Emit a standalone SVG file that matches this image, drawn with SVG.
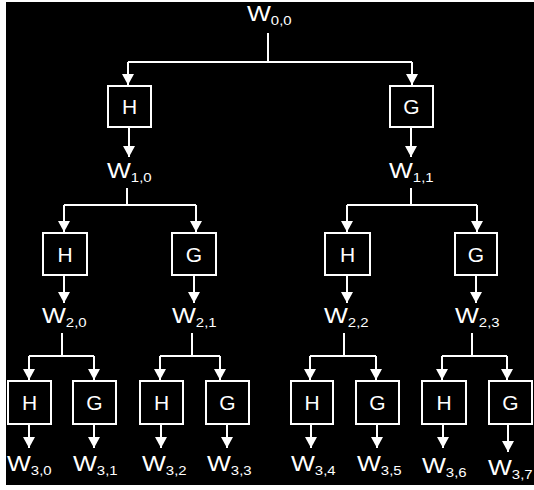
<svg xmlns="http://www.w3.org/2000/svg" width="534" height="490" viewBox="0 0 534 490">
  <defs>
    <style>
      .frame { fill: #000; }
      .box { fill: #000; stroke: #fff; stroke-width: 2; }
      .op { fill: #fff; font-family: "Liberation Sans", Arial, sans-serif; font-size: 21px; text-anchor: middle; }
      .lbl { fill: #fff; font-family: "Liberation Sans", Arial, sans-serif; font-size: 22px; }
      .sub { font-size: 13px; }
      .wire { fill: none; stroke: #fff; stroke-width: 2; }
    </style>
    <marker id="head" markerUnits="userSpaceOnUse" markerWidth="12" markerHeight="12" refX="11" refY="6" orient="auto">
      <path d="M0,0 L11,6 L0,12 z" fill="#fff"/>
    </marker>
  </defs>

  <!-- page -->
  <rect width="534" height="490" fill="#fff"/>
  <rect class="frame" x="6" y="2" width="528" height="483"/>

  <!-- connectors -->
  <g id="connectors" class="wire">
    <!-- level 0 split -->
    <path d="M268,33 V62 M128,62 H412"/>
    <path d="M128,62 V85" marker-end="url(#head)"/>
    <path d="M412,62 V85" marker-end="url(#head)"/>
    <path d="M129,128 V157" marker-end="url(#head)"/>
    <path d="M411,128 V157" marker-end="url(#head)"/>

    <!-- level 1 splits -->
    <path d="M127,188 V205 M64,205 H196"/>
    <path d="M64,205 V232" marker-end="url(#head)"/>
    <path d="M196,205 V232" marker-end="url(#head)"/>
    <path d="M411,188 V205 M347,205 H477"/>
    <path d="M347,205 V232" marker-end="url(#head)"/>
    <path d="M477,205 V232" marker-end="url(#head)"/>
    <path d="M64,276 V303" marker-end="url(#head)"/>
    <path d="M194,276 V303" marker-end="url(#head)"/>
    <path d="M347,276 V303" marker-end="url(#head)"/>
    <path d="M476,276 V303" marker-end="url(#head)"/>

    <!-- level 2 splits -->
    <path d="M62,333 V356 M29,356 H94"/>
    <path d="M29,356 V380" marker-end="url(#head)"/>
    <path d="M94,356 V380" marker-end="url(#head)"/>
    <path d="M192,333 V356 M160,356 H220"/>
    <path d="M160,356 V380" marker-end="url(#head)"/>
    <path d="M220,356 V380" marker-end="url(#head)"/>
    <path d="M344,333 V356 M310,356 H376"/>
    <path d="M310,356 V380" marker-end="url(#head)"/>
    <path d="M376,356 V380" marker-end="url(#head)"/>
    <path d="M472,333 V356 M442,356 H507"/>
    <path d="M442,356 V380" marker-end="url(#head)"/>
    <path d="M507,356 V380" marker-end="url(#head)"/>

    <!-- level 3 outputs -->
    <path d="M29,425 V448" marker-end="url(#head)"/>
    <path d="M94,425 V448" marker-end="url(#head)"/>
    <path d="M161,425 V448" marker-end="url(#head)"/>
    <path d="M227,425 V448" marker-end="url(#head)"/>
    <path d="M311,425 V448" marker-end="url(#head)"/>
    <path d="M377,425 V448" marker-end="url(#head)"/>
    <path d="M443,425 V448" marker-end="url(#head)"/>
    <path d="M508,425 V452" marker-end="url(#head)"/>
  </g>

  <!-- filter boxes -->
  <g id="h1"><rect class="box" x="108" y="86" width="43" height="41"/><text class="op" x="129.5" y="114">H</text></g>
  <g id="g1"><rect class="box" x="390" y="86" width="43" height="41"/><text class="op" x="411.5" y="114">G</text></g>

  <g id="h2a"><rect class="box" x="43" y="233" width="44" height="42"/><text class="op" x="65" y="262">H</text></g>
  <g id="g2a"><rect class="box" x="172" y="233" width="44" height="42"/><text class="op" x="194" y="262">G</text></g>
  <g id="h2b"><rect class="box" x="325" y="233" width="45" height="42"/><text class="op" x="347.5" y="262">H</text></g>
  <g id="g2b"><rect class="box" x="455" y="233" width="42" height="42"/><text class="op" x="476" y="262">G</text></g>

  <g id="h3a"><rect class="box" x="8" y="381" width="43" height="43"/><text class="op" x="29.5" y="410">H</text></g>
  <g id="g3a"><rect class="box" x="73" y="381" width="43" height="43"/><text class="op" x="94.5" y="410">G</text></g>
  <g id="h3b"><rect class="box" x="140" y="381" width="43" height="43"/><text class="op" x="161.5" y="410">H</text></g>
  <g id="g3b"><rect class="box" x="206" y="381" width="43" height="43"/><text class="op" x="227.5" y="410">G</text></g>
  <g id="h3c"><rect class="box" x="291" y="381" width="42" height="43"/><text class="op" x="312" y="410">H</text></g>
  <g id="g3c"><rect class="box" x="356" y="381" width="43" height="43"/><text class="op" x="377.5" y="410">G</text></g>
  <g id="h3d"><rect class="box" x="422" y="381" width="44" height="43"/><text class="op" x="444" y="410">H</text></g>
  <g id="g3d"><rect class="box" x="489" y="381" width="43" height="43"/><text class="op" x="510.5" y="410">G</text></g>

  <!-- signal labels -->
  <g id="w00" transform="translate(247,21) scale(1.15,1)"><text class="lbl">W<tspan class="sub" dy="4">0,0</tspan></text></g>

  <g id="w10" transform="translate(107,178) scale(1.15,1)"><text class="lbl">W<tspan class="sub" dy="4">1,0</tspan></text></g>
  <g id="w11" transform="translate(389,178) scale(1.15,1)"><text class="lbl">W<tspan class="sub" dy="4">1,1</tspan></text></g>

  <g id="w20" transform="translate(42,323) scale(1.15,1)"><text class="lbl">W<tspan class="sub" dy="4">2,0</tspan></text></g>
  <g id="w21" transform="translate(172,323) scale(1.15,1)"><text class="lbl">W<tspan class="sub" dy="4">2,1</tspan></text></g>
  <g id="w22" transform="translate(324,323) scale(1.15,1)"><text class="lbl">W<tspan class="sub" dy="4">2,2</tspan></text></g>
  <g id="w23" transform="translate(455,323) scale(1.15,1)"><text class="lbl">W<tspan class="sub" dy="4">2,3</tspan></text></g>

  <g id="w30" transform="translate(7,471) scale(1.15,1)"><text class="lbl">W<tspan class="sub" dy="4">3,0</tspan></text></g>
  <g id="w31" transform="translate(73,471) scale(1.15,1)"><text class="lbl">W<tspan class="sub" dy="4">3,1</tspan></text></g>
  <g id="w32" transform="translate(142,471) scale(1.15,1)"><text class="lbl">W<tspan class="sub" dy="4">3,2</tspan></text></g>
  <g id="w33" transform="translate(207,471) scale(1.15,1)"><text class="lbl">W<tspan class="sub" dy="4">3,3</tspan></text></g>
  <g id="w34" transform="translate(291,471) scale(1.15,1)"><text class="lbl">W<tspan class="sub" dy="4">3,4</tspan></text></g>
  <g id="w35" transform="translate(357,471) scale(1.15,1)"><text class="lbl">W<tspan class="sub" dy="4">3,5</tspan></text></g>
  <g id="w36" transform="translate(422,473) scale(1.15,1)"><text class="lbl">W<tspan class="sub" dy="4">3,6</tspan></text></g>
  <g id="w37" transform="translate(488,475) scale(1.15,1)"><text class="lbl">W<tspan class="sub" dy="4">3,7</tspan></text></g>
</svg>
